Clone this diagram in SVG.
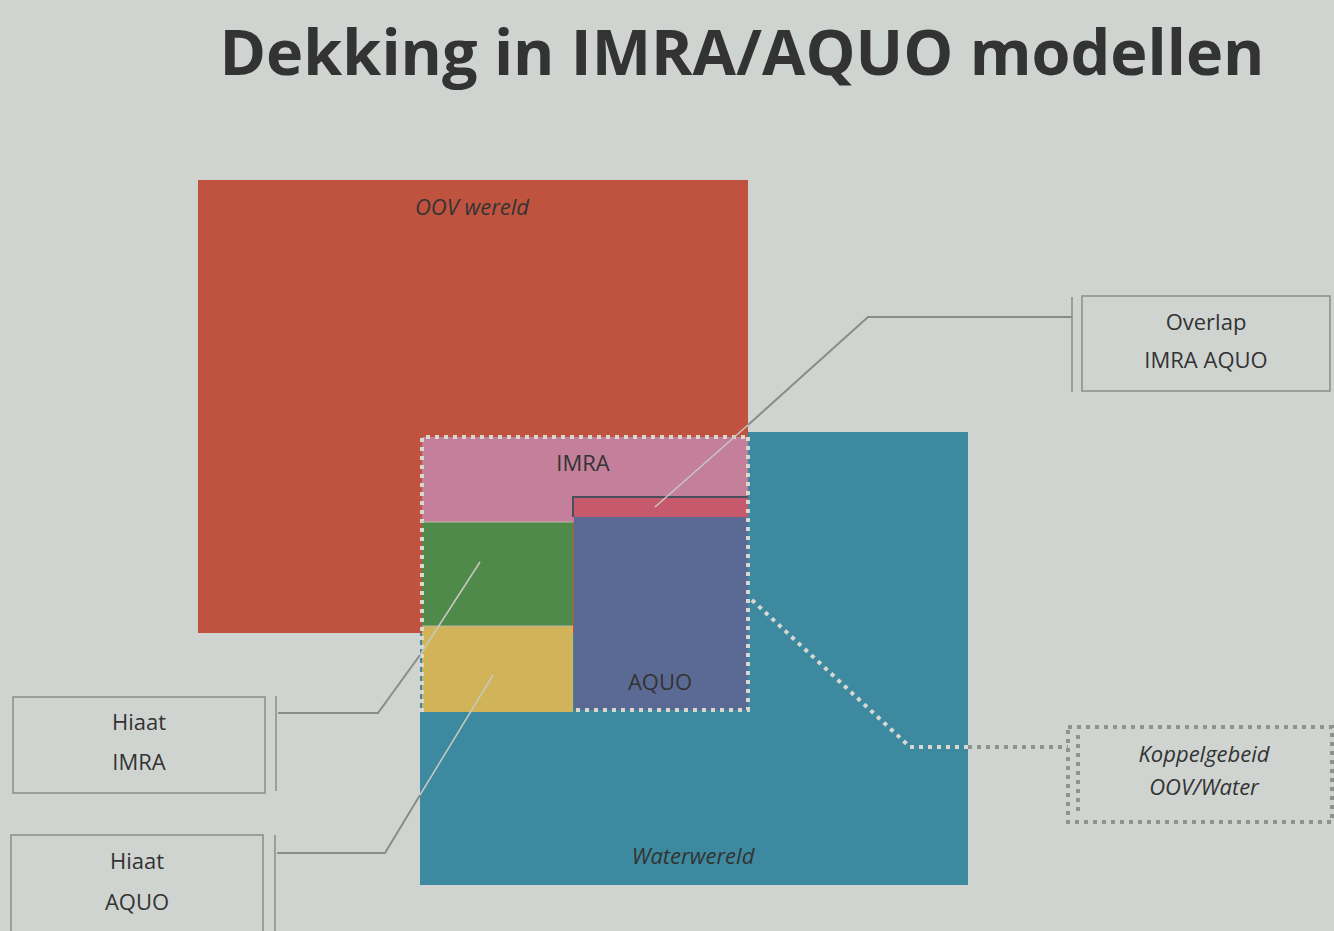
<svg xmlns="http://www.w3.org/2000/svg" width="1334" height="931" viewBox="0 0 1334 931">
<style>
.lbl{font-family:"Open Sans","Liberation Sans",sans-serif;font-size:22px;fill:#333;text-anchor:middle}
.it{font-style:italic}
.box{fill:none;stroke:#8a8c8a;stroke-width:1.5}
.lead{fill:none;stroke:#8a8c8a;stroke-width:2}
.dot{fill:none;stroke:#d8d8d0;stroke-width:4;stroke-dasharray:4 5}
.dotg{fill:none;stroke:#8f938f;stroke-width:4;stroke-dasharray:4 5}
</style>
<rect width="1334" height="931" fill="#d0d4d1"/>
<text x="742" y="75" font-family="'Open Sans','Liberation Sans',sans-serif" font-size="62" font-weight="bold" fill="#333" text-anchor="middle" textLength="1045" lengthAdjust="spacingAndGlyphs">Dekking in IMRA/AQUO modellen</text>

<g id="water">
<rect x="420" y="432" width="548" height="453" fill="#3d8aa0"/>
<text class="lbl it" x="693" y="864">Waterwereld</text>
</g>
<g id="oov">
<rect x="198" y="180" width="550" height="453" fill="#c0533f"/>
<text class="lbl it" x="472" y="215">OOV wereld</text>
</g>
<g id="imra">
<rect x="422" y="437" width="326" height="85" fill="#c4809a"/>
<text class="lbl" x="583" y="471">IMRA</text>
</g>
<g id="hiaat-imra-area">
<rect x="422" y="522" width="151" height="104" fill="#4f8a4a"/>
</g>
<g id="hiaat-aquo-area">
<rect x="422" y="626" width="151" height="86" fill="#d1b459"/>
</g>
<g id="overlap-area">
<rect x="573" y="497" width="175" height="20" fill="#c65a6c"/>
<path d="M573 517 V497 H748" fill="none" stroke="#4a4f5c" stroke-width="2"/>
</g>
<g id="aquo">
<rect x="574" y="517" width="174" height="193" fill="#5b6a94"/>
<text class="lbl" x="660" y="690">AQUO</text>
</g>
<g id="outlines">
<path class="dot" d="M422 712 V437 H748"/>
<path class="dot" d="M748 437 V710 H574"/>
<path d="M422 522 H573 M422 626 H573" stroke="#b8b8a8" stroke-width="1" fill="none"/>
</g>

<g id="box-overlap">
<rect class="box" x="1082" y="296" width="248" height="95"/>
<line class="box" x1="1072" y1="297" x2="1072" y2="392"/>
<text class="lbl" x="1206" y="330">Overlap</text>
<text class="lbl" x="1206" y="368">IMRA AQUO</text>
</g>
<g id="box-koppel">
<rect class="dotg" x="1068" y="727" width="264" height="95"/>
<line class="dotg" x1="1078" y1="735" x2="1078" y2="815"/>
<text class="lbl it" x="1204" y="762">Koppelgebeid</text>
<text class="lbl it" x="1204" y="795">OOV/Water</text>
</g>
<g id="box-hiaat-imra">
<rect class="box" x="13" y="697" width="252" height="96"/>
<line class="box" x1="276" y1="696" x2="276" y2="791"/>
<text class="lbl" x="139" y="730">Hiaat</text>
<text class="lbl" x="139" y="770">IMRA</text>
</g>
<g id="box-hiaat-aquo">
<rect class="box" x="11" y="835" width="252" height="100"/>
<line class="box" x1="275" y1="835" x2="275" y2="931"/>
<text class="lbl" x="137" y="869">Hiaat</text>
<text class="lbl" x="137" y="910">AQUO</text>
</g>

<g id="connectors">
<path class="lead" d="M1072 317 H868 L748 425"/>
<path d="M748 425 L655 507" fill="none" stroke="#c8c8c0" stroke-width="1.5"/>
<path class="lead" d="M278 713 H378 L420 655"/>
<path d="M420 655 L480 562" fill="none" stroke="#c8c8c0" stroke-width="1.5"/>
<path class="lead" d="M277 853 H385 L420 795"/>
<path d="M420 795 L493 675" fill="none" stroke="#c8c8c0" stroke-width="1.5"/>
<path d="M752 600 L910 747" class="dot"/>
<path d="M910 747 H968" class="dot"/>
<path d="M968 747 H1068" class="dotg"/>
</g>
</svg>
